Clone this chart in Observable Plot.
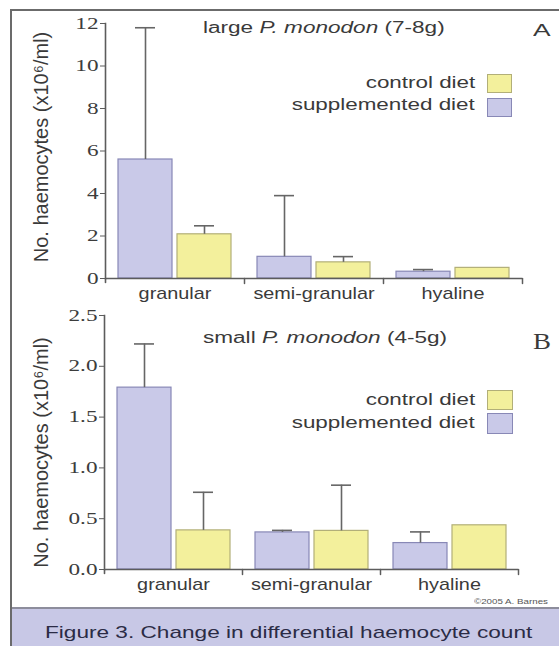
<!DOCTYPE html>
<html><head><meta charset="utf-8">
<script src="https://cdn.jsdelivr.net/npm/d3@7"></script>
<script src="https://cdn.jsdelivr.net/npm/@observablehq/plot@0.6"></script>
<style>
html,body{margin:0;padding:0;background:#fff;}
#page{position:relative;width:559px;height:646px;overflow:hidden;background:#fff;font-family:"Liberation Sans",Arial,sans-serif;color:#3a3a3a;}
.abs{position:absolute;white-space:nowrap;}
.frame{position:absolute;left:10px;top:9px;width:600px;height:700px;border-left:2px solid #6b6b6b;border-top:2px solid #6b6b6b;}
.band{position:absolute;left:12px;top:607px;width:600px;height:50px;background:#c8c8e6;border-top:2px solid #8d8d9c;}
.sw{position:absolute;box-sizing:border-box;border:1.5px solid;}
.plot{position:absolute;left:0;}
</style></head>
<body><div id="page"><div class="frame"></div><div class="band"></div></div>
<script>
// ---------- data ----------
const categories = ["granular", "semi-granular", "hyaline"];
const diets = ["supplemented diet", "control diet"];
const legendOrder = ["control diet", "supplemented diet"];

// Panel A: large P. monodon (7-8g)
const largeSupplemented = [5.6, 1.02, 0.32];
const largeSupplementedErr = [6.2, 2.88, 0.1];
const largeControl = [2.08, 0.76, 0.5];
const largeControlErr = [0.4, 0.27, null];
const ticksA = [0, 2, 4, 6, 8, 10, 12];

// Panel B: small P. monodon (4-5g)
const smallSupplemented = [1.79, 0.365, 0.26];
const smallSupplementedErr = [0.43, 0.02, 0.11];
const smallControl = [0.385, 0.38, 0.435];
const smallControlErr = [0.375, 0.45, null];
const ticksB = [0, 0.5, 1.0, 1.5, 2.0, 2.5];

const titleA = ["large ", "P. monodon", " (7-8g)"];
const titleB = ["small ", "P. monodon", " (4-5g)"];
const yLabel = "No. haemocytes (x10⁶/ml)";
const caption = "Figure 3. Change in differential haemocyte count";
const credit = "©2005 A. Barnes";

// ---------- styles ----------
const SANS = "'Liberation Sans', Arial, Helvetica, sans-serif";
const SERIF = "'Liberation Serif', 'Times New Roman', serif";
const TEXT = "#3a3a3a";
const AXIS = "#5c5c5c";
const ERR = "#666666";
const dietStyle = {
  "supplemented diet": {fill: "#c9c9e8", stroke: "#8888b6"},
  "control diet": {fill: "#f3f09c", stroke: "#b2af78"}
};

function rowsOf(supp, suppErr, ctrl, ctrlErr) {
  return categories.flatMap((c, i) => [
    {category: c, diet: diets[0], value: supp[i], err: suppErr[i]},
    {category: c, diet: diets[1], value: ctrl[i], err: ctrlErr[i]}
  ]);
}

const tickShape = {draw(ctx, l) { ctx.moveTo(0, 0); ctx.lineTo(0, -l); }};

function stretch(svg, label, f, family) {
  svg.querySelectorAll(`g[aria-label="${label}"]`).forEach(g => { if (family) g.setAttribute("font-family", family); });
  svg.querySelectorAll(`g[aria-label="${label}"] text`).forEach(t => {
    const tr = t.getAttribute("transform") || "";
    t.setAttribute("transform", tr + ` scale(${f},1)`);
  });
}

function chart({rows, domain, ticks, format, height, marginTop, marginBottom, marginLeft, marginRight, labelDy}) {
  const withErr = rows.filter(d => d.err != null).map(d => ({...d, top: d.value + d.err}));
  const marks = [];
  for (const diet of diets) {
    marks.push(Plot.barY(rows.filter(d => d.diet === diet), {
      fx: "category", x: "diet", y: "value",
      fill: dietStyle[diet].fill, stroke: dietStyle[diet].stroke, strokeWidth: 1.2
    }));
  }
  marks.push(
    Plot.ruleX(withErr, {fx: "category", x: "diet", y1: "value", y2: "top", stroke: ERR, strokeWidth: 1.6}),
    Plot.tickY(withErr, {fx: "category", x: "diet", y: "top", stroke: ERR, strokeWidth: 1.6, insetLeft: 17, insetRight: 17}),
    Plot.ruleY([0], {stroke: AXIS, strokeWidth: 1.6}),
    Plot.vector([0], {frameAnchor: "bottom-right", length: 5, rotate: 180, anchor: "start", shape: tickShape, stroke: AXIS, strokeWidth: 1.5}),
    Plot.vector([0], {frameAnchor: "bottom-left", length: 4, rotate: 180, anchor: "start", shape: tickShape, stroke: AXIS, strokeWidth: 1.6, facetAnchor: "left"}),
    Plot.frame({anchor: "left", stroke: AXIS, strokeWidth: 1.6, facetAnchor: "left"}),
    Plot.axisY({ticks, tickFormat: format, tickSize: 5, tickPadding: 2, stroke: AXIS, fill: "#3c3c3c", fontSize: 16, label: null}),
    Plot.axisFx({anchor: "bottom", tickSize: 0, tickPadding: 9, fontSize: 16, fill: TEXT, label: null}),
    Plot.text([yLabel], {frameAnchor: "left", rotate: -90, lineAnchor: "top", textAnchor: "middle", dx: -(marginLeft - 33), dy: labelDy, fontSize: 20, fill: TEXT, facetAnchor: "left"})
  );
  const svg = Plot.plot({
    width: 559, height, marginTop, marginBottom, marginLeft, marginRight,
    style: {fontFamily: SANS, fontSize: "16px", color: TEXT, background: "transparent", overflow: "visible"},
    fx: {domain: categories, padding: 0, label: null},
    x: {domain: diets, paddingInner: 0.085, paddingOuter: 0.21, axis: null},
    y: {domain, label: null},
    marks
  });
  stretch(svg, "y-axis tick label", 1.45, SERIF);
  stretch(svg, "fx-axis tick label", 1.24);
  return svg;
}

const page = document.getElementById("page");
function place(svg, top) {
  const d = document.createElement("div");
  d.className = "plot"; d.style.top = top + "px";
  d.appendChild(svg); page.appendChild(d);
}

place(chart({rows: rowsOf(largeSupplemented, largeSupplementedErr, largeControl, largeControlErr),
  domain: [0, 12], ticks: ticksA, format: d3.format("d"),
  height: 305, marginTop: 23, marginBottom: 27, marginLeft: 105, marginRight: 37, labelDy: -4}), 0);

place(chart({rows: rowsOf(smallSupplemented, smallSupplementedErr, smallControl, smallControlErr),
  domain: [0, 2.5], ticks: ticksB, format: d3.format(".1f"),
  height: 295, marginTop: 10, marginBottom: 31, marginLeft: 104, marginRight: 41, labelDy: 10}), 305);

// ---------- annotations ----------
function addText(parts, {x, baseline, size, family = SANS, anchor = "start", sx = 1, color = TEXT}) {
  const d = document.createElement("div");
  d.className = "abs";
  const asc = family === SERIF ? 0.8375 : 0.8465;
  d.style.fontFamily = family;
  d.style.fontSize = size + "px";
  d.style.lineHeight = size + "px";
  d.style.color = color;
  d.style.top = (baseline - asc * size) + "px";
  if (anchor === "end") { d.style.right = (559 - x) + "px"; d.style.transformOrigin = "right center"; }
  else { d.style.left = x + "px"; d.style.transformOrigin = "left center"; }
  d.style.transform = `scaleX(${sx})`;
  (Array.isArray(parts) ? parts : [parts]).forEach((p, i) => {
    const s = document.createElement("span");
    s.textContent = p;
    if (Array.isArray(parts) && i === 1) s.style.fontStyle = "italic";
    d.appendChild(s);
  });
  page.appendChild(d);
}
function addSwatch(diet, x, y, w, h) {
  const s = document.createElement("div");
  s.className = "sw";
  Object.assign(s.style, {left: x + "px", top: y + "px", width: w + "px", height: h + "px",
    background: dietStyle[diet].fill, borderColor: dietStyle[diet].stroke});
  page.appendChild(s);
}

addText(titleA, {x: 203, baseline: 34, size: 16, sx: 1.41});
addText("A", {x: 533, baseline: 36, size: 17, sx: 1.55});
addText(legendOrder[0], {x: 475, baseline: 89, size: 16, anchor: "end", sx: 1.4});
addText(legendOrder[1], {x: 475, baseline: 111, size: 16, anchor: "end", sx: 1.4});
addSwatch(legendOrder[0], 487, 74, 25, 19);
addSwatch(legendOrder[1], 487, 98, 25, 19);

addText(titleB, {x: 203, baseline: 344, size: 16, sx: 1.41});
addText("B", {x: 533, baseline: 349, size: 24, family: SERIF, sx: 1.12});
addText(legendOrder[0], {x: 475, baseline: 406, size: 16, anchor: "end", sx: 1.4});
addText(legendOrder[1], {x: 475, baseline: 429, size: 16, anchor: "end", sx: 1.4});
addSwatch(legendOrder[0], 487, 390, 26, 20);
addSwatch(legendOrder[1], 487, 413, 26, 21);

addText(credit, {x: 474, baseline: 605, size: 8, sx: 1.22, color: "#555"});
addText(caption, {x: 45, baseline: 638, size: 17, sx: 1.33, color: "#2b2b45"});
</script></body></html>
